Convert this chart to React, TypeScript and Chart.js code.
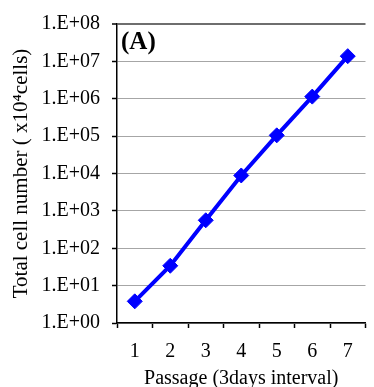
import React, { useEffect, useRef } from "react";
import { Chart, registerables } from "chart.js";

Chart.register(...registerables);

const passages = ["1", "2", "3", "4", "5", "6", "7"];
const totalCells = [3.8, 34, 560, 8850, 1.05e5, 1.14e6, 1.38e7];
const yTickExponents = [0, 1, 2, 3, 4, 5, 6, 7, 8];
const yTitle = "Total cell number ( x10\u2074cells)";
const xTitle = "Passage (3days interval)";
const panelLabel = "(A)";

const FONT = "'Liberation Serif', 'Times New Roman', serif";

export default function App() {
  const ref = useRef<HTMLCanvasElement>(null);
  useEffect(() => {
    if (!ref.current) return;
    const panelPlugin = {
      id: "panelLabel",
      afterDraw(chart: any) {
        const ctx = chart.ctx;
        ctx.save();
        ctx.font = `bold 25px ${FONT}`;
        ctx.fillStyle = "#000";
        ctx.textAlign = "left";
        ctx.textBaseline = "middle";
        ctx.fillText(panelLabel, chart.chartArea.left + 4, chart.chartArea.top + 19);
        ctx.restore();
      },
    };
    const chart = new Chart(ref.current, {
      type: "line",
      data: {
        labels: passages,
        datasets: [
          {
            data: totalCells,
            borderColor: "#0000ff",
            backgroundColor: "#0000ff",
            borderWidth: 4,
            pointStyle: "rectRot",
            pointRadius: 7.5,
            pointBorderWidth: 1,
            pointBorderColor: "#0000ff",
            tension: 0,
          },
        ],
      },
      options: {
        animation: false,
        responsive: false,
        devicePixelRatio: 1,
        layout: { padding: { top: 22, right: 0, left: 0, bottom: 0 } },
        plugins: { legend: { display: false }, tooltip: { enabled: false } },
        scales: {
          x: {
            type: "category",
            offset: true,
            grid: {
              offset: true,
              drawOnChartArea: false,
              drawTicks: true,
              tickLength: 5,
              tickColor: "#000",
              tickWidth: 1.5,
            },
            border: { color: "#000", width: 1.5 },
            ticks: {
              color: "#000",
              font: { family: FONT, size: 20 },
              padding: 12,
              maxRotation: 0,
            },
            title: {
              display: true,
              text: xTitle,
              color: "#000",
              font: { family: FONT, size: 20, lineHeight: 1 },
              padding: { top: 0, bottom: -2 },
            },
            afterFit(scale: any) {
              scale.height = 64;
            },
          },
          y: {
            type: "logarithmic",
            min: 1,
            max: 1e8,
            afterBuildTicks(scale: any) {
              scale.ticks = yTickExponents.map((e) => ({ value: Math.pow(10, e) }));
            },
            grid: {
              color: (c: any) => (c.tick && c.tick.value === 1e8 ? "#6e6e6e" : "#a6a6a6"),
              lineWidth: (c: any) => (c.tick && c.tick.value === 1e8 ? 2 : 1),
              tickColor: "#000",
              tickLength: 5,
              tickWidth: 1.5,
            },
            border: { color: "#000", width: 1.5 },
            ticks: {
              color: "#000",
              font: { family: FONT, size: 20 },
              padding: 12,
              callback: (v: any) => {
                const e = Math.round(Math.log10(Number(v)));
                return "1.E+" + String(e).padStart(2, "0");
              },
            },
            title: {
              display: true,
              text: yTitle,
              color: "#000",
              font: { family: FONT, size: 21, lineHeight: 1.2 },
              padding: { top: 9, bottom: 0 },
            },
            afterFit(scale: any) {
              scale.width = 117;
            },
          },
        },
      },
      plugins: [panelPlugin],
    });
    return () => chart.destroy();
  }, []);
  return (
    <div style={{ position: "fixed", left: 0, top: 0, width: 374, height: 387, background: "#fff" }}>
      <canvas ref={ref} width={374} height={387} style={{ display: "block" }} />
    </div>
  );
}
